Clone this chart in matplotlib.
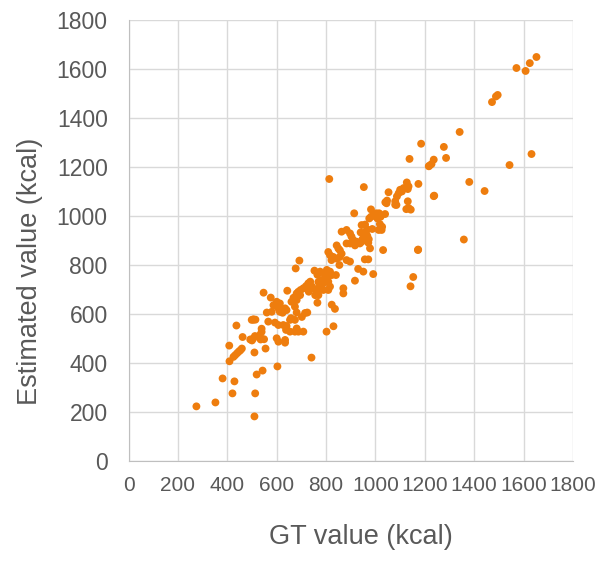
import matplotlib
matplotlib.use("Agg")
import matplotlib.pyplot as plt

plt.rcParams['font.family'] = ['Liberation Sans', 'DejaVu Sans']

# GT (x) / estimated (y) calories
gt_lo = [275, 352, 381, 408, 409, 421, 429, 425, 432, 440, 447, 453, 459, 437,
         462, 510, 513, 519, 543, 510, 555, 507, 514, 539, 539, 505, 512, 500,
         535, 547, 603, 741]
est_lo = [223, 239, 337, 471, 407, 276, 325, 425, 432, 440, 447, 452, 459, 553,
          506, 182, 276, 353, 369, 443, 459, 577, 577, 540, 527, 500, 510, 492,
          496, 687, 386, 422]

gt_mid = [692, 677, 643, 576, 753, 765, 776, 792, 803, 800, 796, 783, 776, 769,
          789, 728, 719, 708, 697, 688, 681, 675, 671, 695, 746, 760, 756, 769,
          765, 660, 668, 681, 674, 600, 613, 593, 587, 607, 613, 624, 580, 560,
          634, 640, 681, 724, 654, 674, 658, 505, 499, 566, 593, 607, 627, 640,
          638, 654, 681, 688, 674, 708, 532, 493, 549, 600, 607, 634, 634, 802,
          823, 836, 830, 715, 702]
est_mid = [818, 786, 695, 667, 777, 760, 773, 766, 773, 752, 738, 731, 717, 731,
           725, 725, 714, 705, 698, 691, 684, 670, 663, 677, 705, 698, 677, 677,
           646, 650, 666, 657, 630, 650, 643, 636, 636, 623, 609, 605, 609, 606,
           623, 616, 606, 606, 576, 576, 583, 578, 576, 569, 565, 555, 555, 551,
           535, 528, 541, 528, 528, 528, 514, 496, 497, 501, 487, 494, 483, 528,
           638, 621, 550, 604, 588]

gt_up = [982, 975, 982, 995, 1004, 1015, 1008, 1021, 1039, 914, 1018, 1025, 1045,
         1085, 944, 961, 863, 883, 897, 903, 910, 924, 937, 944, 917, 897, 883,
         971, 978, 843, 850, 856, 863, 809, 816, 829, 822, 843, 856, 883, 897,
         957, 971, 1031, 854, 930, 951, 991, 917, 803, 816, 823, 809, 783, 809,
         816, 809, 789, 770, 736, 743, 730, 840, 870, 870]
est_up = [1027, 990, 997, 1004, 1011, 1011, 990, 997, 1008, 1011, 967, 943, 1052,
          1045, 963, 936, 936, 943, 929, 916, 902, 895, 888, 895, 880, 888, 888,
          891, 868, 880, 867, 860, 846, 853, 840, 833, 820, 826, 833, 820, 814,
          823, 823, 861, 800, 784, 773, 763, 736, 780, 773, 759, 755, 739, 732,
          712, 698, 698, 705, 732, 712, 691, 759, 705, 684]

gt_hi = [1185, 1138, 1218, 1227, 1236, 953, 813, 1174, 1127, 1134, 1114, 1100,
         1107, 1094, 1087, 1053, 1047, 1040, 1080, 1131, 1134, 1143, 1080, 1238,
         1000, 958, 967, 987, 1013, 1027, 940, 953, 967, 973, 947, 1173, 1153,
         1142, 1358, 1652, 1625, 1571, 1608, 1495, 1488, 1472, 1341, 1277, 1286,
         1216, 1632, 1543, 1131, 1104, 1380, 1442, 1236, 1125, 1172]
est_hi = [1295, 1233, 1205, 1212, 1230, 1118, 1151, 1131, 1137, 1121, 1114, 1107,
          1100, 1093, 1080, 1097, 1063, 1056, 1060, 1060, 1033, 1026, 1046, 1083,
          999, 965, 945, 947, 943, 956, 933, 927, 919, 905, 905, 863, 751,
          713, 904, 1649, 1624, 1604, 1592, 1494, 1488, 1465, 1343, 1282, 1237,
          1203, 1253, 1208, 1110, 1105, 1139, 1102, 1081, 1028, 861]

gt = gt_lo + gt_mid + gt_up + gt_hi
est = est_lo + est_mid + est_up + est_hi

ticks = list(range(0, 1801, 200))
grey = '#595959'

fig = plt.figure(figsize=(6.12, 5.67), dpi=100)
ax = fig.add_axes([128.5 / 612, 1 - 461 / 567, 444.5 / 612, 441 / 567])

ax.scatter(gt, est, s=32, color='#EE7D0E', edgecolors='none', zorder=3)

ax.set_xlim(0, 1800)
ax.set_ylim(0, 1800)
ax.set_xticks(ticks)
ax.set_yticks(ticks)
ax.grid(True, color='#D9D9D9', linewidth=1)
ax.set_axisbelow(True)
for side in ['top', 'right']:
    ax.spines[side].set_visible(False)
for side in ['left', 'bottom']:
    ax.spines[side].set_color('#BFBFBF')
ax.tick_params(length=0, labelcolor=grey)
ax.tick_params(axis='y', pad=15, labelsize=16.5)
ax.tick_params(axis='x', pad=11, labelsize=15)

fig.text(361 / 612, 1 - 537 / 567, 'GT value (kcal)', ha='center', va='center',
         fontsize=19.5, color=grey)
fig.text(30 / 612, 1 - 271 / 567, 'Estimated value (kcal)', ha='center', va='center',
         rotation=90, fontsize=19.5, color=grey)

fig.savefig('out.png', dpi=100)
